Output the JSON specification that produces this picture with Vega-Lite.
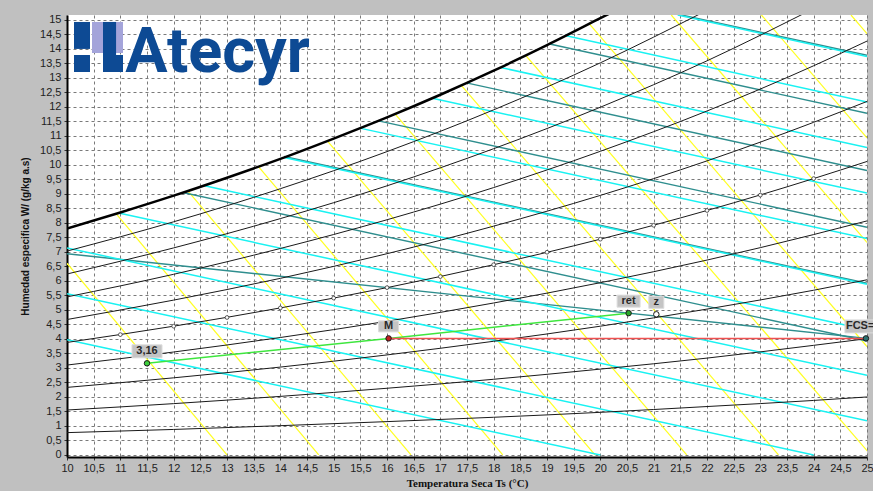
{
  "$schema": "https://vega.github.io/schema/vega-lite/v6.json",
  "width": 800,
  "height": 442,
  "autosize": {"type": "none"},
  "padding": {"left": 67, "top": 15, "right": 6, "bottom": 34},
  "background": "#c0c0c0",
  "config": {
    "view": {"fill": "white", "stroke": null},
    "axis": {
      "grid": true, "gridDash": [3, 3], "gridColor": "#7a7a7a", "gridWidth": 1,
      "domainColor": "#000000", "domainWidth": 2,
      "tickColor": "#333333", "tickSize": 3,
      "labelFont": "Liberation Sans", "labelFontSize": 11, "labelColor": "#222222",
      "labelFlush": false, "labelOverlap": false,
      "titleColor": "#111111", "titleFontWeight": "bold"
    }
  },
  "datasets": {
    "sat": [
      {"T": 10, "W": 7.81}, {"T": 11, "W": 8.36}, {"T": 12, "W": 8.94}, {"T": 13, "W": 9.56},
      {"T": 14, "W": 10.21}, {"T": 15, "W": 10.91}, {"T": 16, "W": 11.64}, {"T": 17, "W": 12.42},
      {"T": 18, "W": 13.25}, {"T": 19, "W": 14.13}, {"T": 20, "W": 15.06}, {"T": 20.3, "W": 15.34}
    ],
    "rh": [
      {"rh": 90, "T": 10, "W": 7.03}, {"rh": 90, "T": 12, "W": 8.04}, {"rh": 90, "T": 14, "W": 9.18}, {"rh": 90, "T": 16, "W": 10.46}, {"rh": 90, "T": 18, "W": 11.90}, {"rh": 90, "T": 20, "W": 13.52}, {"rh": 90, "T": 22, "W": 15.33},
      {"rh": 80, "T": 10, "W": 6.24}, {"rh": 80, "T": 12, "W": 7.14}, {"rh": 80, "T": 14, "W": 8.15}, {"rh": 80, "T": 16, "W": 9.28}, {"rh": 80, "T": 18, "W": 10.56}, {"rh": 80, "T": 20, "W": 11.99}, {"rh": 80, "T": 22, "W": 13.59}, {"rh": 80, "T": 24, "W": 15.39},
      {"rh": 70, "T": 10, "W": 5.45}, {"rh": 70, "T": 12, "W": 6.23}, {"rh": 70, "T": 14, "W": 7.12}, {"rh": 70, "T": 16, "W": 8.11}, {"rh": 70, "T": 18, "W": 9.22}, {"rh": 70, "T": 20, "W": 10.47}, {"rh": 70, "T": 22, "W": 11.86}, {"rh": 70, "T": 24, "W": 13.42}, {"rh": 70, "T": 25, "W": 14.27},
      {"rh": 60, "T": 10, "W": 4.67}, {"rh": 60, "T": 12, "W": 5.34}, {"rh": 60, "T": 14, "W": 6.09}, {"rh": 60, "T": 16, "W": 6.94}, {"rh": 60, "T": 18, "W": 7.89}, {"rh": 60, "T": 20, "W": 8.95}, {"rh": 60, "T": 22, "W": 10.14}, {"rh": 60, "T": 24, "W": 11.47}, {"rh": 60, "T": 25, "W": 12.19},
      {"rh": 50, "T": 10, "W": 3.88}, {"rh": 50, "T": 12, "W": 4.44}, {"rh": 50, "T": 14, "W": 5.07}, {"rh": 50, "T": 16, "W": 5.77}, {"rh": 50, "T": 18, "W": 6.56}, {"rh": 50, "T": 20, "W": 7.44}, {"rh": 50, "T": 22, "W": 8.43}, {"rh": 50, "T": 24, "W": 9.53}, {"rh": 50, "T": 25, "W": 10.12},
      {"rh": 40, "T": 10, "W": 3.10}, {"rh": 40, "T": 12, "W": 3.55}, {"rh": 40, "T": 14, "W": 4.05}, {"rh": 40, "T": 16, "W": 4.61}, {"rh": 40, "T": 18, "W": 5.24}, {"rh": 40, "T": 20, "W": 5.94}, {"rh": 40, "T": 22, "W": 6.72}, {"rh": 40, "T": 24, "W": 7.60}, {"rh": 40, "T": 25, "W": 8.07},
      {"rh": 30, "T": 10, "W": 2.33}, {"rh": 30, "T": 12, "W": 2.66}, {"rh": 30, "T": 14, "W": 3.03}, {"rh": 30, "T": 16, "W": 3.45}, {"rh": 30, "T": 18, "W": 3.92}, {"rh": 30, "T": 20, "W": 4.44}, {"rh": 30, "T": 22, "W": 5.03}, {"rh": 30, "T": 24, "W": 5.68}, {"rh": 30, "T": 25, "W": 6.04},
      {"rh": 20, "T": 10, "W": 1.55}, {"rh": 20, "T": 12, "W": 1.77}, {"rh": 20, "T": 14, "W": 2.02}, {"rh": 20, "T": 16, "W": 2.30}, {"rh": 20, "T": 18, "W": 2.61}, {"rh": 20, "T": 20, "W": 2.96}, {"rh": 20, "T": 22, "W": 3.34}, {"rh": 20, "T": 24, "W": 3.78}, {"rh": 20, "T": 25, "W": 4.01},
      {"rh": 10, "T": 10, "W": 0.77}, {"rh": 10, "T": 12, "W": 0.88}, {"rh": 10, "T": 14, "W": 1.01}, {"rh": 10, "T": 16, "W": 1.15}, {"rh": 10, "T": 18, "W": 1.30}, {"rh": 10, "T": 20, "W": 1.47}, {"rh": 10, "T": 22, "W": 1.67}, {"rh": 10, "T": 24, "W": 1.88}, {"rh": 10, "T": 25, "W": 2.00}
    ],
    "dots50": [
      {"T": 11, "W": 4.15}, {"T": 12, "W": 4.44}, {"T": 13, "W": 4.74}, {"T": 14, "W": 5.07}, {"T": 15, "W": 5.41},
      {"T": 16, "W": 5.77}, {"T": 17, "W": 6.15}, {"T": 18, "W": 6.56}, {"T": 19, "W": 6.99}, {"T": 20, "W": 7.44},
      {"T": 21, "W": 7.92}, {"T": 22, "W": 8.43}, {"T": 23, "W": 8.96}, {"T": 24, "W": 9.53}
    ],
    "vol": [
      {"v": 0.83, "T": 13.0, "W": 0}, {"v": 0.83, "T": 9.37, "W": 8.0},
      {"v": 0.835, "T": 14.72, "W": 0}, {"v": 0.835, "T": 10.92, "W": 8.32},
      {"v": 0.84, "T": 16.45, "W": 0}, {"v": 0.84, "T": 12.27, "W": 9.1},
      {"v": 0.845, "T": 18.17, "W": 0}, {"v": 0.845, "T": 13.59, "W": 9.94},
      {"v": 0.85, "T": 19.9, "W": 0}, {"v": 0.85, "T": 14.88, "W": 10.83},
      {"v": 0.855, "T": 21.62, "W": 0}, {"v": 0.855, "T": 16.15, "W": 11.76},
      {"v": 0.86, "T": 23.34, "W": 0}, {"v": 0.86, "T": 17.39, "W": 12.75},
      {"v": 0.865, "T": 25.07, "W": 0}, {"v": 0.865, "T": 18.6, "W": 13.78},
      {"v": 0.87, "T": 25, "W": 3.74}, {"v": 0.87, "T": 19.79, "W": 14.87},
      {"v": 0.875, "T": 25, "W": 7.33}, {"v": 0.875, "T": 21.33, "W": 15.17},
      {"v": 0.88, "T": 25, "W": 10.93}, {"v": 0.88, "T": 23.02, "W": 15.17},
      {"v": 0.885, "T": 25, "W": 14.53}, {"v": 0.885, "T": 24.7, "W": 15.17}
    ],
    "hcyan": [
      {"h": 20, "T": 10, "W": 3.97}, {"h": 20, "T": 20, "W": 0},
      {"h": 24, "T": 10, "W": 5.56}, {"h": 24, "T": 24, "W": 0},
      {"h": 28, "T": 10, "W": 7.14}, {"h": 28, "T": 25, "W": 1.18},
      {"h": 32, "T": 10.97, "W": 8.34}, {"h": 32, "T": 25, "W": 2.75},
      {"h": 36, "T": 12.56, "W": 9.29}, {"h": 36, "T": 25, "W": 4.32},
      {"h": 40, "T": 14.07, "W": 10.26}, {"h": 40, "T": 25, "W": 5.89},
      {"h": 44, "T": 15.49, "W": 11.27}, {"h": 44, "T": 25, "W": 7.46},
      {"h": 48, "T": 16.85, "W": 12.30}, {"h": 48, "T": 25, "W": 9.03},
      {"h": 52, "T": 18.13, "W": 13.36}, {"h": 52, "T": 25, "W": 10.60},
      {"h": 56, "T": 19.34, "W": 14.46}, {"h": 56, "T": 25, "W": 12.17},
      {"h": 60, "T": 21.45, "W": 15.17}, {"h": 60, "T": 25, "W": 13.74}
    ],
    "hteal": [
      {"h": 35, "T": 12.17, "W": 9.05}, {"h": 35, "T": 25, "W": 3.93},
      {"h": 40, "T": 14.07, "W": 10.29}, {"h": 40, "T": 25, "W": 5.92},
      {"h": 45, "T": 15.84, "W": 11.52}, {"h": 45, "T": 25, "W": 7.85},
      {"h": 50, "T": 17.49, "W": 12.83}, {"h": 50, "T": 25, "W": 9.81},
      {"h": 55, "T": 19.05, "W": 14.17}, {"h": 55, "T": 25, "W": 11.78},
      {"h": 60, "T": 21.45, "W": 15.2}, {"h": 60, "T": 25, "W": 13.78},
      {"h": 61, "T": 10, "W": 6.94}, {"h": 61, "T": 25, "W": 4.02}
    ],
    "green": [
      {"T": 11.5, "W": 3.16}, {"T": 16.03, "W": 4.02}, {"T": 20.53, "W": 4.89}
    ],
    "red": [
      {"T": 16.03, "W": 4.02}, {"T": 25, "W": 4.02}
    ],
    "pts": [
      {"name": "3,16", "T": 11.5, "W": 3.16},
      {"name": "M", "T": 16.03, "W": 4.02},
      {"name": "ret", "T": 20.53, "W": 4.89},
      {"name": "z", "T": 21.05, "W": 4.85},
      {"name": "FCS=", "T": 24.98, "W": 4.02}
    ],
    "logo": [
      {"part": "lav", "T": 10.469, "T2": 11.05, "W": 14.93, "W2": 13.86},
      {"part": "dark", "T": 10.131, "T2": 10.431, "W": 14.93, "W2": 14.0},
      {"part": "dark", "T": 10.131, "T2": 10.431, "W": 13.79, "W2": 13.205},
      {"part": "dark", "T": 10.675, "T2": 10.92, "W": 14.93, "W2": 13.205},
      {"part": "dark", "T": 10.675, "T2": 11.05, "W": 13.79, "W2": 13.205}
    ]
  },
  "encoding": {
    "x": {
      "field": "T", "type": "quantitative",
      "scale": {"domain": [10, 25], "nice": false, "zero": false},
      "axis": {
        "values": [10, 10.5, 11, 11.5, 12, 12.5, 13, 13.5, 14, 14.5, 15, 15.5, 16, 16.5, 17, 17.5, 18, 18.5, 19, 19.5, 20, 20.5, 21, 21.5, 22, 22.5, 23, 23.5, 24, 24.5, 25],
        "labelExpr": "replace(toString(datum.value), '.', ',')",
        "labelPadding": 2,
        "title": "Temperatura Seca   Ts (°C)",
        "titleFont": "Liberation Serif", "titleFontSize": 11, "titlePadding": 4
      }
    },
    "y": {
      "field": "W", "type": "quantitative",
      "scale": {"domain": [-0.07, 15.17], "nice": false, "zero": false},
      "axis": {
        "values": [0, 0.5, 1, 1.5, 2, 2.5, 3, 3.5, 4, 4.5, 5, 5.5, 6, 6.5, 7, 7.5, 8, 8.5, 9, 9.5, 10, 10.5, 11, 11.5, 12, 12.5, 13, 13.5, 14, 14.5, 15],
        "labelExpr": "replace(toString(datum.value), '.', ',')",
        "labelPadding": 3,
        "title": "Humedad especifica   W/   (g/kg a.s)",
        "titleFont": "Liberation Sans", "titleFontSize": 10, "titlePadding": 9
      }
    }
  },
  "layer": [
    {
      "data": {"name": "vol"},
      "mark": {"type": "line", "color": "#ffff20", "strokeWidth": 1.2, "clip": true},
      "encoding": {"detail": {"field": "v"}}
    },
    {
      "data": {"name": "hteal"},
      "mark": {"type": "line", "color": "#2e8e8e", "strokeWidth": 1.4, "clip": true},
      "encoding": {"detail": {"field": "h"}}
    },
    {
      "data": {"name": "hcyan"},
      "mark": {"type": "line", "color": "#19f2f2", "strokeWidth": 1.5, "clip": true},
      "encoding": {"detail": {"field": "h"}}
    },
    {
      "data": {"name": "rh"},
      "mark": {"type": "line", "color": "#1a1a1a", "strokeWidth": 1, "interpolate": "monotone", "clip": true},
      "encoding": {"detail": {"field": "rh"}}
    },
    {
      "data": {"name": "sat"},
      "mark": {"type": "line", "color": "#000000", "strokeWidth": 2.5, "interpolate": "monotone", "clip": true},
      "encoding": {}
    },
    {
      "data": {"name": "dots50"},
      "mark": {"type": "point", "shape": "circle", "size": 14, "filled": true, "fill": "white", "stroke": "#333333", "strokeWidth": 0.8, "opacity": 1}
    },
    {
      "data": {"name": "green"},
      "mark": {"type": "line", "color": "#3ee63e", "strokeWidth": 1.5, "clip": true},
      "encoding": {}
    },
    {
      "data": {"name": "red"},
      "mark": {"type": "line", "color": "#f05050", "strokeWidth": 1.5, "clip": true},
      "encoding": {}
    },
    {
      "data": {"name": "pts"},
      "mark": {"type": "point", "shape": "circle", "size": 30, "filled": true, "stroke": "#1a1a1a", "strokeWidth": 1, "opacity": 1},
      "encoding": {
        "fill": {
          "field": "name", "type": "nominal", "legend": null,
          "scale": {"domain": ["3,16", "M", "ret", "z", "FCS="], "range": ["#3ccf3c", "#c02020", "#2aa82a", "#ffffff", "#2a7070"]}
        }
      }
    },
    {
      "data": {"name": "pts"},
      "transform": [{"filter": "datum.name != 'FCS='"}],
      "mark": {"type": "point", "filled": true, "size": 400, "fill": "#c4c4c4", "stroke": "#dcdcdc", "strokeWidth": 1, "opacity": 1, "yOffset": -12},
      "encoding": {
        "shape": {
          "field": "name", "type": "nominal", "legend": null,
          "scale": {
            "domain": ["3,16", "M", "ret", "z"],
            "range": ["M-1.5,-0.65H1.5V0.65H-1.5Z", "M-1,-0.55H1V0.55H-1Z", "M-1.15,-0.6H1.15V0.6H-1.15Z", "M-0.75,-0.6H0.75V0.6H-0.75Z"]
          }
        }
      }
    },
    {
      "data": {"name": "pts"},
      "transform": [{"filter": "datum.name != 'FCS='"}],
      "mark": {"type": "text", "font": "Liberation Sans", "fontSize": 11, "fontWeight": "bold", "color": "#2a2a2a", "dy": -12, "baseline": "middle", "align": "center"},
      "encoding": {"text": {"field": "name"}}
    },
    {
      "data": {"name": "pts"},
      "transform": [{"filter": "datum.name == 'FCS='"}],
      "mark": {"type": "point", "shape": "M-1.6,-0.65H1.6V0.65H-1.6Z", "filled": true, "size": 400, "fill": "#c4c4c4", "stroke": "#dcdcdc", "strokeWidth": 1, "opacity": 1, "yOffset": -12, "xOffset": -5}
    },
    {
      "data": {"name": "pts"},
      "transform": [{"filter": "datum.name == 'FCS='"}],
      "mark": {"type": "text", "font": "Liberation Sans", "fontSize": 11, "fontWeight": "bold", "color": "#2a2a2a", "dy": -12, "dx": -20, "baseline": "middle", "align": "left"},
      "encoding": {"text": {"field": "name"}}
    },
    {
      "data": {"values": [{}]},
      "mark": {"type": "rule", "color": "#5a3a5a", "strokeWidth": 1},
      "encoding": {
        "x": {"datum": 10, "type": "quantitative"},
        "x2": {"datum": 25},
        "y": {"datum": 15.17, "type": "quantitative"}
      }
    },
    {
      "data": {"name": "logo"},
      "transform": [{"filter": "datum.part == 'lav'"}],
      "mark": {"type": "rect", "color": "#a4a4da"},
      "encoding": {"x2": {"field": "T2"}, "y2": {"field": "W2"}}
    },
    {
      "data": {"name": "logo"},
      "transform": [{"filter": "datum.part == 'dark'"}],
      "mark": {"type": "rect", "color": "#0d4a94"},
      "encoding": {"x2": {"field": "T2"}, "y2": {"field": "W2"}}
    },
    {
      "data": {"values": [{"txt": "Atecyr", "T": 11.09, "W": 13.205}]},
      "mark": {"type": "text", "font": "Roboto", "fontSize": 63, "fontWeight": "bold", "color": "#0d4a94", "align": "left", "baseline": "alphabetic"},
      "encoding": {"text": {"field": "txt"}}
    }
  ]
}
